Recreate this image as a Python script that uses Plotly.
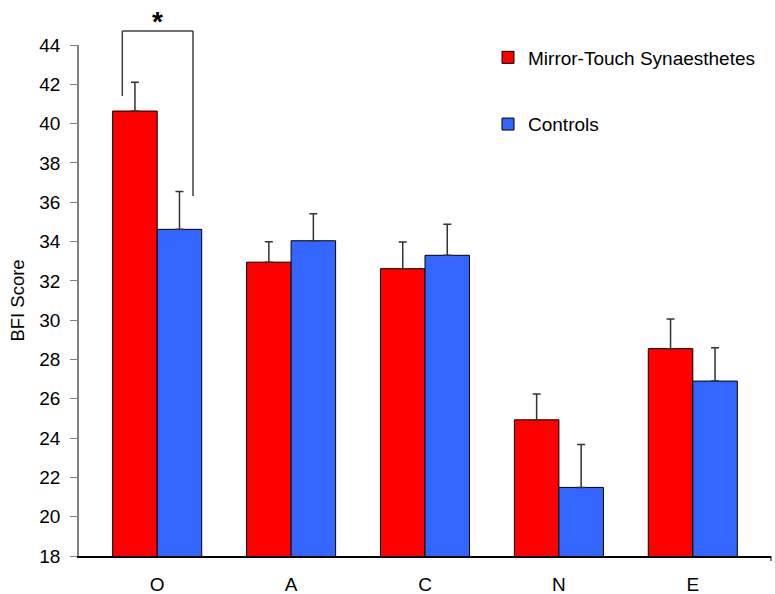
import plotly.graph_objects as go

categories = ["O", "A", "C", "N", "E"]
mts_scores = [40.64, 32.95, 32.62, 24.93, 28.55]
mts_err = [1.47, 1.04, 1.36, 1.31, 1.51]
ctrl_scores = [34.62, 34.04, 33.30, 21.49, 26.90]
ctrl_err = [1.92, 1.38, 1.58, 2.18, 1.69]
y_ticks = list(range(18, 46, 2))

FONT = "Liberation Sans, Arial, sans-serif"
W, H = 775, 594
ML, MR, MT, MB = 79, 4, 45, 38
PW, PH = W - ML - MR, H - MT - MB


def px(x):
    return (x - ML) / PW


def py(y):
    return (H - MB - y) / PH


fig = go.Figure()
fig.add_trace(go.Bar(
    x=categories, y=mts_scores, name="Mirror-Touch Synaesthetes",
    marker=dict(color="#FF0000", line=dict(color="#000000", width=1)),
    error_y=dict(type="data", array=mts_err, arrayminus=[0] * 5, symmetric=False,
                 color="#333333", thickness=1.5, width=4),
    legendgroup="a",
))
fig.add_trace(go.Bar(
    x=categories, y=ctrl_scores, name="Controls",
    marker=dict(color="#3366FF", line=dict(color="#000000", width=1)),
    error_y=dict(type="data", array=ctrl_err, arrayminus=[0] * 5, symmetric=False,
                 color="#333333", thickness=1.5, width=4),
    legendgroup="b",
))

shapes = [
    # significance bracket
    dict(type="line", xref="paper", yref="paper", x0=px(122.3), x1=px(122.3), y0=py(96), y1=py(31),
         line=dict(color="#404040", width=1.5)),
    dict(type="line", xref="paper", yref="paper", x0=px(122.3), x1=px(193), y0=py(31), y1=py(31),
         line=dict(color="#404040", width=1.5)),
    dict(type="line", xref="paper", yref="paper", x0=px(193), x1=px(193), y0=py(31), y1=py(196),
         line=dict(color="#404040", width=1.5)),
    # right end tick of x axis
    dict(type="line", xref="paper", yref="paper", x0=1, x1=1, y0=0, y1=py(H - MB + 5),
         line=dict(color="#000000", width=1)),
]

fig.update_layout(
    width=W, height=H,
    margin=dict(l=ML, r=MR, t=MT, b=MB, autoexpand=False),
    paper_bgcolor="white", plot_bgcolor="white",
    font=dict(family=FONT, size=19, color="#000000"),
    barmode="group", bargap=0.335, bargroupgap=0,
    xaxis=dict(range=[-0.584, 4.584], showline=True, linecolor="#000000", linewidth=1.5,
               ticks="", showgrid=False, zeroline=False, tickfont=dict(size=19),
               automargin=False, ticklabelstandoff=10),
    yaxis=dict(range=[18, 44], tickvals=y_ticks, showline=True, linecolor="#808080", linewidth=1.5,
               ticks="outside", ticklen=7, tickcolor="#808080", tickwidth=1,
               showgrid=False, zeroline=False, tickfont=dict(size=19),
               automargin=False, ticklabelstandoff=6,
               title=dict(text="BFI Score", font=dict(size=18.5), standoff=10)),
    showlegend=True,
    legend=dict(x=px(488), y=py(38.5), xanchor="left", yanchor="top",
                font=dict(size=19), tracegroupgap=39, traceorder="grouped",
                bgcolor="rgba(0,0,0,0)", itemwidth=30),
    shapes=shapes,
    annotations=[dict(text="<b>*</b>", xref="paper", yref="paper", x=px(157.3), y=py(4),
                      xanchor="center", yanchor="top", showarrow=False,
                      font=dict(size=28, color="#000000"))],
)

fig.write_html("out.html", config={"displayModeBar": False},
               post_script="document.body.style.margin='0';document.body.style.padding='0';")
